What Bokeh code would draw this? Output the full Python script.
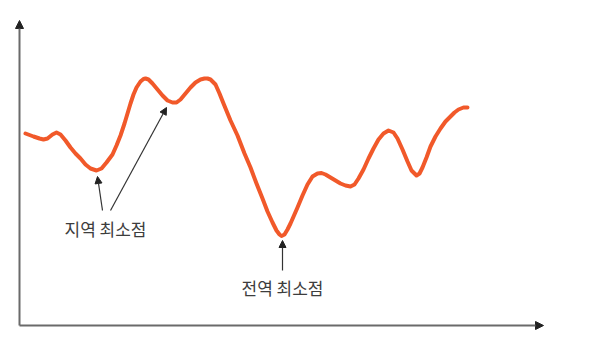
from bokeh.plotting import figure
from bokeh.models import Range1d, Arrow, NormalHead, Label
from bokeh.embed import file_html
from bokeh.resources import INLINE

# Curve values (x: position along axis, y: height above x-axis)
curve_x = [6, 14, 20, 24, 28, 33, 37, 41, 46, 51, 56, 61, 66, 71, 77, 82, 87, 93, 97, 101,
           105, 108, 111, 114, 117, 121, 124, 126, 129, 133, 138, 143, 148, 153, 157, 161,
           166, 171, 176, 181, 185, 188, 191, 196, 200, 204, 211, 218, 225, 231, 237, 243,
           248, 253, 257, 260, 262, 265, 268, 271, 278, 283, 288, 293, 298, 302, 306, 311,
           316, 321, 326, 331, 335, 339, 344, 349, 354, 359, 364, 369, 374, 378, 383, 388,
           392, 397, 400, 403, 407, 411, 416, 421, 426, 431, 435, 439, 444, 448]
curve_y = [192, 189, 187, 186, 187, 191, 193, 191, 185, 178, 172, 167, 161, 157, 155, 157, 163, 171, 180, 190,
           202, 212, 222, 231, 238, 244, 246.5, 247, 246, 242, 236, 230, 225, 223, 223, 226,
           232, 238, 243, 246, 247, 247, 246, 241, 232, 222, 205, 190, 172, 158, 142, 127,
           114, 103, 95, 91, 89.5, 91, 96, 102, 118, 130, 141, 149, 152, 152.5, 151, 148,
           145, 142, 140, 139, 141, 147, 156, 167, 177, 186, 192, 195, 193, 187, 176, 164,
           155, 150, 152, 158, 168, 179, 189, 197, 204, 209, 213, 216, 218, 218]

# Axis extents
axis_x_end = 524
axis_y_end = 305

# Annotations: label texts, anchor positions, arrows (start -> tip)
labels = ["지역 최소점", "전역 최소점"]
label_x = [86, 263]
label_y = [97, 38]
arrow_x0 = [83, 91, 263]
arrow_y0 = [115, 115, 55]
arrow_x1 = [78, 147, 263]
arrow_y1 = [149, 218, 85]

W, H = 574, 347
p = figure(width=W, height=H, output_backend="svg", toolbar_location=None,
           x_range=Range1d(-19, 555), y_range=Range1d(-22, 325),
           min_border=0, min_border_left=0, min_border_right=0,
           min_border_top=0, min_border_bottom=0)
p.axis.visible = False
p.grid.visible = False
p.outline_line_color = None
p.background_fill_color = "white"
p.border_fill_color = "white"

# axes with arrowheads
p.add_layout(Arrow(x_start=0, y_start=0, x_end=axis_x_end, y_end=0,
                   line_color="#6a6a6a", line_width=2,
                   end=NormalHead(size=8, fill_color="#222222", line_color="#222222", line_width=1)))
p.add_layout(Arrow(x_start=0, y_start=0, x_end=0, y_end=axis_y_end,
                   line_color="#6a6a6a", line_width=2,
                   end=NormalHead(size=8, fill_color="#222222", line_color="#222222", line_width=1)))

p.line(curve_x, curve_y, line_color="#F1592A", line_width=4,
       line_join="round", line_cap="round")

for x0, y0, x1, y1 in zip(arrow_x0, arrow_y0, arrow_x1, arrow_y1):
    p.add_layout(Arrow(x_start=x0, y_start=y0, x_end=x1, y_end=y1,
                       line_color="#333333", line_width=1.2,
                       end=NormalHead(size=7, fill_color="#222222", line_color="#222222", line_width=1)))

for t, x, y in zip(labels, label_x, label_y):
    p.add_layout(Label(x=x, y=y, text=t, text_align="center", text_baseline="middle",
                       text_font="Noto Sans CJK KR", text_font_size="17px",
                       text_color="#3d3d3d"))

open("out.html", "w").write(file_html(p, INLINE))
